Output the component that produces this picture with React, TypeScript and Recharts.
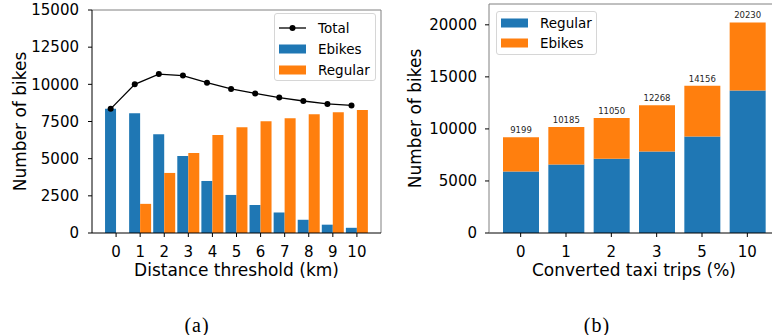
import { Bar, BarChart, ComposedChart, Label, LabelList, Legend, Line, ReferenceLine, XAxis, YAxis } from "recharts";

// (a) bikes vs distance threshold
const distances = [0, 1, 2, 3, 4, 5, 6, 7, 8, 9, 10];
const ebikesByDistance = [8350, 8050, 6650, 5180, 3500, 2560, 1890, 1380, 890, 560, 350];
const regularByDistance = [0, 1960, 4040, 5380, 6600, 7120, 7520, 7720, 7990, 8125, 8280];
const totalByDistance = [8350, 10000, 10690, 10590, 10110, 9690, 9390, 9110, 8880, 8680, 8580];
const ticksA = [0, 2500, 5000, 7500, 10000, 12500, 15000];

// (b) bikes vs converted taxi trips
const tripShares = ["0", "1", "2", "3", "5", "10"];
const regularByShare = [5900, 6570, 7140, 7820, 9260, 13690];
const ebikesByShare = [3299, 3615, 3910, 4448, 4896, 6540];
const totalByShare = [9199, 10185, 11050, 12268, 14156, 20230];
const ticksB = [0, 5000, 10000, 15000, 20000];

const BLUE = "#1f77b4";
const ORANGE = "#ff7f0e";
const FONT = "DejaVu Sans";

const dataA = distances.map((d, i) => ({
  d,
  ebikes: ebikesByDistance[i],
  regular: regularByDistance[i],
  total: totalByDistance[i]
}));

const dataB = tripShares.map((share, i) => ({
  share,
  regular: regularByShare[i],
  ebikes: ebikesByShare[i],
  total: totalByShare[i]
}));

const tick = { fill: "#000", fontSize: 15, fontFamily: FONT };
const axisLabel = { fill: "#000", fontSize: 17, fontFamily: FONT };
const caption = { position: "absolute" as const, top: 316, width: 100, textAlign: "center" as const, fontFamily: "Liberation Serif", fontSize: 20, lineHeight: "19px", letterSpacing: 1 };

type Item = { name: string; color: string; line?: boolean };

function LegendBox({ items, width, height, padTop, rowHeight }: { items: Item[]; width: number; height: number; padTop: number; rowHeight: number }) {
  return (
    <div
      style={{
        boxSizing: "border-box",
        width,
        height,
        paddingTop: padTop,
        paddingLeft: 4,
        border: "1px solid #d6d6d6",
        borderRadius: 3,
        background: "rgba(255,255,255,0.85)",
        fontFamily: FONT,
        fontSize: 13.5,
        color: "#000"
      }}
    >
      {items.map((it) => (
        <div key={it.name} style={{ display: "flex", alignItems: "center", height: rowHeight }}>
          <svg width={27} height={10} style={{ marginRight: 12, flex: "none" }}>
            {it.line ? (
              <>
                <line x1={0} y1={5} x2={27} y2={5} stroke={it.color} strokeWidth={1.3} />
                <circle cx={13.5} cy={5} r={3} fill={it.color} />
              </>
            ) : (
              <rect x={0} y={0.5} width={27} height={9} fill={it.color} />
            )}
          </svg>
          <span>{it.name}</span>
        </div>
      ))}
    </div>
  );
}

export default function App() {
  return (
    <div style={{ position: "absolute", left: 0, top: 0, width: 772, height: 335, overflow: "hidden", background: "#fff" }}>
      <div style={{ position: "absolute", left: 0, top: 0 }}>
        <ComposedChart width={390} height={300} data={dataA} margin={{ top: 10, right: 9, bottom: 0, left: 0 }} barGap={0}>
          <XAxis
            dataKey="d"
            type="number"
            domain={[-1, 11]}
            ticks={distances}
            interval={0}
            height={67}
            tickSize={4}
            tickMargin={9}
            tick={tick}
            axisLine={{ stroke: "#000" }}
            tickLine={{ stroke: "#000" }}
          >
            <Label value="Distance threshold (km)" position="insideBottom" offset={24} style={axisLabel} />
          </XAxis>
          <XAxis xAxisId="shift" dataKey="d" type="number" domain={[-0.775, 11.225]} hide />
          <YAxis
            domain={[0, 15000]}
            ticks={ticksA}
            interval={0}
            width={92}
            tickSize={4}
            tickMargin={9}
            tick={tick}
            axisLine={{ stroke: "#000" }}
            tickLine={{ stroke: "#000" }}
          >
            <Label value="Number of bikes" angle={-90} position="insideLeft" offset={20} style={{ ...axisLabel, textAnchor: "middle" }} />
          </YAxis>
          <ReferenceLine x={11} stroke="#808080" />
          <ReferenceLine y={15000} stroke="#808080" />
          <Bar dataKey="ebikes" name="Ebikes" fill={BLUE} barSize={11} isAnimationActive={false} />
          <Bar dataKey="regular" name="Regular" fill={ORANGE} barSize={11} isAnimationActive={false} />
          <Line
            xAxisId="shift"
            dataKey="total"
            name="Total"
            stroke="#000"
            strokeWidth={1.3}
            dot={{ r: 3, fill: "#000", stroke: "#000", strokeWidth: 0 }}
            activeDot={false}
            isAnimationActive={false}
          />
          <Legend
            layout="vertical"
            align="center"
            verticalAlign="middle"
            wrapperStyle={{ left: 274, top: 13, width: 102 }}
            content={() => (
              <LegendBox
                width={102}
                height={68}
                padTop={3}
                rowHeight={21}
                items={[
                  { name: "Total", color: "#000", line: true },
                  { name: "Ebikes", color: BLUE },
                  { name: "Regular", color: ORANGE }
                ]}
              />
            )}
          />
        </ComposedChart>
      </div>

      <div style={{ position: "absolute", left: 390, top: 0, width: 382, height: 300, overflow: "hidden" }}>
        <BarChart width={389} height={300} data={dataB} margin={{ top: 4, right: 0, bottom: 0, left: 0 }}>
          <XAxis
            dataKey="share"
            padding={{ left: 9, right: 9 }}
            height={67}
            tickSize={4}
            tickMargin={9}
            tick={tick}
            interval={0}
            axisLine={{ stroke: "#000" }}
            tickLine={{ stroke: "#000" }}
          >
            <Label value="Converted taxi trips (%)" position="insideBottom" offset={24} style={axisLabel} />
          </XAxis>
          <YAxis
            domain={[0, 22000]}
            ticks={ticksB}
            interval={0}
            width={99}
            tickSize={4}
            tickMargin={8}
            tick={tick}
            axisLine={{ stroke: "#808080" }}
            tickLine={{ stroke: "#000" }}
          >
            <Label value="Number of bikes" angle={-90} position="insideLeft" offset={25} style={{ ...axisLabel, textAnchor: "middle" }} />
          </YAxis>
          <ReferenceLine y={22000} stroke="#808080" />
          <Bar dataKey="regular" name="Regular" stackId="s" fill={BLUE} barSize={36} isAnimationActive={false} />
          <Bar dataKey="ebikes" name="Ebikes" stackId="s" fill={ORANGE} barSize={36} isAnimationActive={false}>
            <LabelList dataKey="total" position="top" offset={4} style={{ fill: "#262626", fontSize: 8.5, fontFamily: FONT }} />
          </Bar>
          <Legend
            layout="vertical"
            align="center"
            verticalAlign="middle"
            wrapperStyle={{ left: 106, top: 11, width: 101 }}
            content={() => (
              <LegendBox
                width={101}
                height={44}
                padTop={1}
                rowHeight={20}
                items={[
                  { name: "Regular", color: BLUE },
                  { name: "Ebikes", color: ORANGE }
                ]}
              />
            )}
          />
        </BarChart>
      </div>

      <div style={{ ...caption, left: 147 }}>(a)</div>
      <div style={{ ...caption, left: 547 }}>(b)</div>
    </div>
  );
}
